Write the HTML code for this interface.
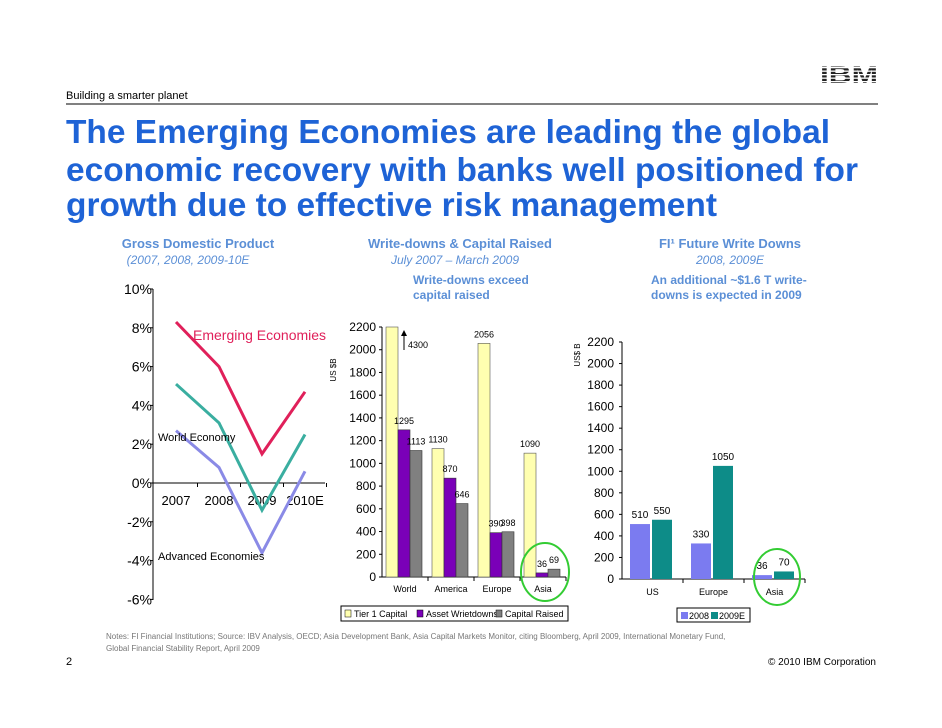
<!DOCTYPE html>
<html><head><meta charset="utf-8"><style>
body{margin:0;background:#fff;font-family:"Liberation Sans",Arial,sans-serif;}
svg{display:block}
</style></head><body>
<svg id="s" width="942" height="728" xmlns="http://www.w3.org/2000/svg" font-family="Liberation Sans, Arial, sans-serif">
<text x="66" y="99" font-size="11" fill="#000">Building a smarter planet</text>
<g>
<text x="849" y="83" font-size="24" font-weight="bold" text-anchor="middle" textLength="58" lengthAdjust="spacingAndGlyphs" fill="#222">IBM</text>
<rect x="818" y="67" width="62" height="1.3" fill="#fff"/><rect x="818" y="70.5" width="62" height="1.3" fill="#fff"/>
<rect x="818" y="74" width="62" height="1.3" fill="#fff"/><rect x="818" y="77.5" width="62" height="1.3" fill="#fff"/>
<rect x="818" y="81" width="62" height="1.3" fill="#fff"/>
</g>
<line x1="66" y1="104" x2="878" y2="104" stroke="#000" stroke-width="1"/>
<g font-size="33" font-weight="bold" fill="#1e63d6">
<text x="66" y="143" textLength="764" lengthAdjust="spacingAndGlyphs">The Emerging Economies are leading the global</text>
<text x="66" y="181" textLength="792" lengthAdjust="spacingAndGlyphs">economic recovery with banks well positioned for</text>
<text x="66" y="216" textLength="651" lengthAdjust="spacingAndGlyphs">growth due to effective risk management</text>
</g>
<g font-size="13" font-weight="bold" fill="#5b8fd6" text-anchor="middle">
<text x="198" y="248">Gross Domestic Product</text>
<text x="460" y="248">Write-downs &amp; Capital Raised</text>
<text x="730" y="248">FI¹ Future Write Downs</text>
</g>
<g font-size="12" font-style="italic" fill="#5b8fd6" text-anchor="middle">
<text x="188" y="264">(2007, 2008, 2009-10E</text>
<text x="455" y="264">July 2007 – March 2009</text>
<text x="730" y="264">2008, 2009E</text>
</g>
<g font-size="12" font-weight="bold" fill="#5b8fd6">
<text x="413" y="284">Write-downs exceed</text><text x="413" y="299">capital raised</text>
<text x="651" y="284">An additional ~$1.6 T write-</text><text x="651" y="299">downs is expected in 2009</text>
</g>
<g id="gdp"></g><g id="wd"></g><g id="fi"></g>
<text x="106" y="639" font-size="8" fill="#777">Notes: FI Financial Institutions; Source: IBV Analysis, OECD;  Asia Development Bank, Asia Capital Markets Monitor, citing Bloomberg, April 2009, International Monetary Fund,</text>
<text x="106" y="651" font-size="8" fill="#777">Global Financial Stability Report, April 2009</text>
<text x="66" y="665" font-size="11">2</text>
<text x="876" y="665" font-size="10" text-anchor="end">© 2010 IBM Corporation</text>
</svg>
<script>
const years=["2007","2008","2009","2010E"];
const emerging=[8.3,6.0,1.5,4.7];
const world=[5.1,3.1,-1.4,2.5];
const advanced=[2.7,0.8,-3.6,0.6];
const gdpTicks=[10,8,6,4,2,0,-2,-4,-6];
const wdCats=["World","America","Europe","Asia"];
const tier1=[4300,1130,2056,1090];
const assetWd=[1295,870,390,36];
const capRaised=[1113,646,398,69];
const wdTicks=[0,200,400,600,800,1000,1200,1400,1600,1800,2000,2200];
const fiCats=["US","Europe","Asia"];
const fi2008=[510,330,36];
const fi2009=[550,1050,70];
const NS="http://www.w3.org/2000/svg";
function mk(p,t,a,txt){const e=document.createElementNS(NS,t);for(const k in a)e.setAttribute(k,a[k]);if(txt!=null)e.textContent=txt;p.appendChild(e);return e;}
// GDP
(function(){const g=document.getElementById('gdp');
const y=v=>483-v*19.4, x=i=>176+i*43;
const ax=mk(g,'line',{x1:153,y1:289,x2:153,y2:600,stroke:'#000'});

mk(g,'line',{x1:153,y1:y(0),x2:325,y2:y(0),stroke:'#000'});
gdpTicks.forEach(t=>{mk(g,'line',{x1:150,y1:y(t),x2:153,y2:y(t),stroke:'#000'});
const l=mk(g,'text',{x:152,y:y(t)+5,'font-size':14,'text-anchor':'end'},t+'%');
});
years.forEach((yr,i)=>{const l=mk(g,'text',{x:x(i),y:y(0)+22,'font-size':13,'text-anchor':'middle'},yr);

mk(g,'line',{x1:x(i)+21.5,y1:y(0),x2:x(i)+21.5,y2:y(0)+4,stroke:'#000'});});
[[emerging,'#e0205a','emerging-line'],[world,'#3aaea0','world-line'],[advanced,'#8a8ae6','advanced-line']].forEach(([d,c,n])=>{
const p=mk(g,'polyline',{points:d.map((v,i)=>x(i)+','+y(v)).join(' '),fill:'none',stroke:c,'stroke-width':3});
});
mk(g,'text',{x:193,y:340,'font-size':14,fill:'#e0205a'},'Emerging Economies');
mk(g,'text',{x:158,y:441,'font-size':11},'World Economy');
mk(g,'text',{x:158,y:560,'font-size':11},'Advanced Economies');
})();
// Write-downs
(function(){const g=document.getElementById('wd');
const y0=577,k=250/2200,y=v=>y0-Math.min(v,2200)*k,ax0=382,gw=46,bw=12;
mk(g,'line',{x1:ax0,y1:327,x2:ax0,y2:y0,stroke:'#000'});
mk(g,'line',{x1:ax0,y1:y0,x2:ax0+gw*4,y2:y0,stroke:'#000'});
mk(g,'text',{x:336,y:370,'font-size':8,transform:'rotate(-90 336 370)','text-anchor':'middle'},'US $B');
wdTicks.forEach(t=>{mk(g,'line',{x1:ax0-3,y1:y(t),x2:ax0,y2:y(t),stroke:'#000'});
const l=mk(g,'text',{x:ax0-6,y:y(t)+4,'font-size':12,'text-anchor':'end'},t);
});
const ser=[[tier1,'#ffffb0','#555'],[assetWd,'#7a00b8','#333'],[capRaised,'#808080','#333']];
wdCats.forEach((c,i)=>{mk(g,'line',{x1:ax0+gw*(i+1),y1:y0,x2:ax0+gw*(i+1),y2:y0+4,stroke:'#000'});
const l=mk(g,'text',{x:ax0+gw*i+gw/2,y:y0+15,'font-size':9,'text-anchor':'middle'},c);

ser.forEach(([d,f,s],j)=>{const bx=ax0+gw*i+4+j*bw;
const r=mk(g,'rect',{x:bx,y:y(d[i]),width:bw,height:y0-y(d[i]),fill:f,stroke:s,'stroke-width':0.6});

if(!(i==0&&j==0))mk(g,'text',{x:bx+bw/2,y:y(d[i])-6,'font-size':9,'text-anchor':'middle'},d[i]);});});
mk(g,'line',{x1:404,y1:350,x2:404,y2:332,stroke:'#000'});mk(g,'path',{d:'M401,336 L404,330 L407,336 Z'});
mk(g,'text',{x:408,y:348,'font-size':9},tier1[0]);
const el=mk(g,'ellipse',{cx:545,cy:572,rx:24,ry:29,fill:'none',stroke:'#33cc33','stroke-width':2});

const lg=mk(g,'g',{});
mk(lg,'rect',{x:341,y:606,width:227,height:15,fill:'#fff',stroke:'#000'});
[['Tier 1 Capital','#ffffb0',345],['Asset Wrietdowns','#7a00b8',417],['Capital Raised','#808080',496]].forEach(([t,c,lx])=>{
mk(lg,'rect',{x:lx,y:610,width:6,height:7,fill:c,stroke:'#000','stroke-width':0.5});mk(lg,'text',{x:lx+9,y:617,'font-size':9},t);});
})();
// FI
(function(){const g=document.getElementById('fi');
const y0=579,k=237/2200,y=v=>y0-v*k,ax0=622,gw=61,bw=20;
mk(g,'line',{x1:ax0,y1:342,x2:ax0,y2:y0,stroke:'#000'});
mk(g,'line',{x1:ax0,y1:y0,x2:ax0+gw*3,y2:y0,stroke:'#000'});
mk(g,'text',{x:580,y:355,'font-size':8,transform:'rotate(-90 580 355)','text-anchor':'middle'},'US$ B');
wdTicks.forEach(t=>{mk(g,'line',{x1:ax0-3,y1:y(t),x2:ax0,y2:y(t),stroke:'#000'});
const l=mk(g,'text',{x:ax0-8,y:y(t)+4,'font-size':12,'text-anchor':'end'},t);
});
fiCats.forEach((c,i)=>{mk(g,'line',{x1:ax0+gw*(i+1),y1:y0,x2:ax0+gw*(i+1),y2:y0+4,stroke:'#000'});
const l=mk(g,'text',{x:ax0+gw*i+gw/2,y:y0+16,'font-size':9,'text-anchor':'middle'},c);

[[fi2008,'#7b7bf0'],[fi2009,'#0d8c88']].forEach(([d,f],j)=>{const bx=ax0+gw*i+8+j*(bw+2);
const r=mk(g,'rect',{x:bx,y:y(d[i]),width:bw,height:y0-y(d[i]),fill:f});

mk(g,'text',{x:bx+bw/2,y:y(d[i])-6,'font-size':10,'text-anchor':'middle'},d[i]);});});
const el=mk(g,'ellipse',{cx:777,cy:577,rx:23,ry:28,fill:'none',stroke:'#33cc33','stroke-width':2});

const lg=mk(g,'g',{});
mk(lg,'rect',{x:677,y:608,width:73,height:14,fill:'#fff',stroke:'#000'});
mk(lg,'rect',{x:681,y:612,width:7,height:7,fill:'#7b7bf0'});mk(lg,'text',{x:689,y:619,'font-size':9},'2008');
mk(lg,'rect',{x:711,y:612,width:7,height:7,fill:'#0d8c88'});mk(lg,'text',{x:719,y:619,'font-size':9},'2009E');
})();
</script>
</body></html>
